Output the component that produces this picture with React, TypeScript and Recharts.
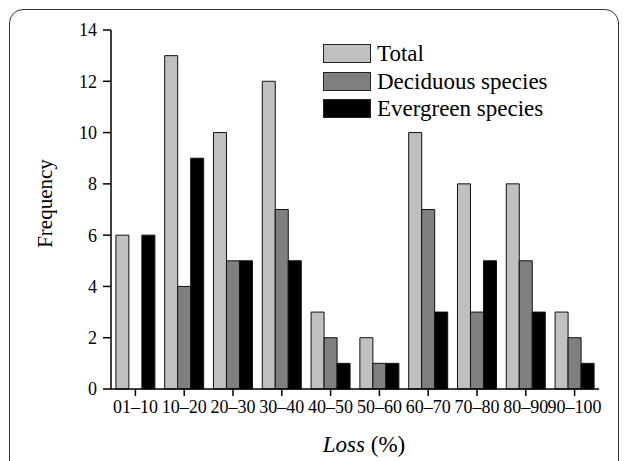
import React from "react";
import { BarChart, Bar, XAxis, YAxis, Legend } from "recharts";

const categories = ["01–10", "10–20", "20–30", "30–40", "40–50", "50–60", "60–70", "70–80", "80–90", "90–100"];
const totalValues = [6, 13, 10, 12, 3, 2, 10, 8, 8, 3];
const deciduousValues = [0, 4, 5, 7, 2, 1, 7, 3, 5, 2];
const evergreenValues = [6, 9, 5, 5, 1, 1, 3, 5, 3, 1];
const yTicks = [0, 2, 4, 6, 8, 10, 12, 14];

const seriesInfo = [
  { key: "total", name: "Total", color: "#c0c0c0" },
  { key: "deciduous", name: "Deciduous species", color: "#7f7f7f" },
  { key: "evergreen", name: "Evergreen species", color: "#000000" },
];

const data = categories.map((c, i) => ({
  cat: c,
  total: totalValues[i],
  deciduous: deciduousValues[i],
  evergreen: evergreenValues[i],
}));

const FONT = "Liberation Serif";

const LegendContent = () => (
  <div style={{ fontFamily: FONT }}>
    {seriesInfo.map((s) => (
      <div key={s.key} style={{ display: "flex", alignItems: "center", height: 27.5 }}>
        <div
          style={{
            width: 46,
            height: 17,
            background: s.color,
            border: "1.5px solid #222",
            marginRight: 6,
          }}
        />
        <span style={{ fontSize: 23, color: "#000", lineHeight: "27px" }}>{s.name}</span>
      </div>
    ))}
  </div>
);

export default function App() {
  return (
    <div
      style={{
        position: "absolute",
        left: 0,
        top: 0,
        width: 627,
        height: 461,
        overflow: "hidden",
        background: "#fff",
        fontFamily: FONT,
      }}
    >
      <div
        style={{
          position: "absolute",
          left: 9,
          top: 9,
          width: 608,
          height: 520,
          border: "1.5px solid #333",
          borderRadius: 14,
        }}
      />
      <div style={{ position: "absolute", left: 0, top: 0, fontFamily: FONT }}>
        <BarChart
          width={627}
          height={461}
          data={data}
          margin={{ top: 30, right: 28, bottom: 0, left: 0 }}
          barCategoryGap="10%"
          barGap={0}
          style={{ fontFamily: FONT }}
        >
          <XAxis
            dataKey="cat"
            height={72}
            interval={0}
            tickSize={7}
            tickMargin={4}
            stroke="#000"
            strokeWidth={1.5}
            tick={{ fill: "#000", fontSize: 18, fontFamily: FONT, style: { fontFamily: FONT } }}
            label={{
              content: (props: any) => {
                const vb = props.viewBox || {};
                const cx = (vb.x ?? 111) + (vb.width ?? 488) / 2 + 9;
                return (
                  <text
                    x={cx}
                    y={452}
                    textAnchor="middle"
                    style={{ fontFamily: FONT, fontSize: 23 }}
                    fill="#000"
                  >
                    <tspan style={{ fontStyle: "italic" }}>Loss</tspan>
                    <tspan> (%)</tspan>
                  </text>
                );
              },
            }}
          />
          <XAxis
            xAxisId="top"
            orientation="top"
            dataKey="cat"
            height={0}
            tick={false}
            tickLine={false}
            stroke="#000"
            strokeWidth={1.5}
          />
          <YAxis
            width={111}
            domain={[0, 14]}
            ticks={yTicks}
            interval={0}
            tickSize={8}
            tickMargin={6}
            stroke="#000"
            strokeWidth={1.5}
            tick={{ fill: "#000", fontSize: 18, fontFamily: FONT, style: { fontFamily: FONT } }}
            label={{
              content: (props: any) => {
                const vb = props.viewBox || {};
                const cy = (vb.y ?? 30) + (vb.height ?? 359) / 2 - 6;
                return (
                  <text
                    x={52}
                    y={cy}
                    transform={`rotate(-90, 52, ${cy})`}
                    textAnchor="middle"
                    style={{ fontFamily: FONT, fontSize: 21 }}
                    fill="#000"
                  >
                    Frequency
                  </text>
                );
              },
            }}
          />
          <YAxis
            yAxisId="right"
            orientation="right"
            width={0}
            domain={[0, 14]}
            tick={false}
            tickLine={false}
            stroke="#000"
            strokeWidth={1.5}
          />
          <Legend
            layout="vertical"
            align="center"
            verticalAlign="middle"
            content={<LegendContent />}
            wrapperStyle={{ position: "absolute", left: 323, top: 40, width: 260 }}
          />
          {seriesInfo.map((s) => (
            <Bar
              key={s.key}
              dataKey={s.key}
              name={s.name}
              fill={s.color}
              stroke="#111"
              strokeWidth={1}
              isAnimationActive={false}
            />
          ))}
        </BarChart>
      </div>
    </div>
  );
}
